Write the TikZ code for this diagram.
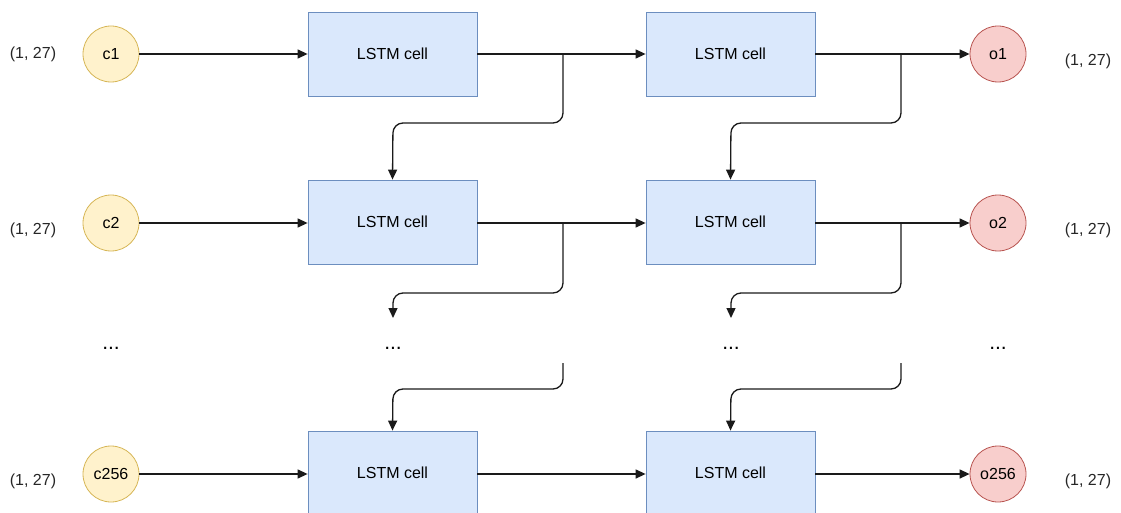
\documentclass[tikz,border=0pt]{standalone}
\usepackage{fontspec}
\setmainfont{Liberation Sans}
\usetikzlibrary{arrows.meta}
\definecolor{yfill}{HTML}{FFF2CC}
\definecolor{ydraw}{HTML}{D6B656}
\definecolor{bfill}{HTML}{DAE8FC}
\definecolor{bdraw}{HTML}{6C8EBF}
\definecolor{rfill}{HTML}{F8CECC}
\definecolor{rdraw}{HTML}{B85450}
\definecolor{edge}{HTML}{1A1A1A}
\begin{document}
\begin{tikzpicture}[x=1pt,y=-1pt,
  font=\fontsize{16}{18}\selectfont,
  incircle/.style={circle,draw=ydraw,fill=yfill,minimum size=56pt,inner sep=0pt,line width=0.8pt},
  outcircle/.style={circle,draw=rdraw,fill=rfill,minimum size=56pt,inner sep=0pt,line width=0.8pt},
  cellbox/.style={rectangle,draw=bdraw,fill=bfill,minimum width=169pt,minimum height=84pt,inner sep=0pt,line width=0.8pt},
  lbl/.style={inner sep=0pt,text=black!85},
  dots/.style={inner sep=0pt,anchor=base,font=\fontsize{21}{21}\selectfont},
  conn/.style={draw=edge,line width=1.3pt,-{Triangle[length=10pt,width=9pt]}},
  branch/.style={draw=edge,line width=1.3pt,rounded corners=10pt},
]
\useasboundingbox (0,0) rectangle (1121,513);
% row 1
\node[incircle] (c1) at (111,54) {c1};
\node[cellbox] (a1) at (392.5,54) {LSTM cell};
\node[cellbox] (b1) at (730.5,54) {LSTM cell};
\node[outcircle] (o1) at (998,54) {o1};
\node[lbl] (li1) at (33,54) {(1, 27)};
\node[lbl] (lo1) at (1088,61) {(1, 27)};
% row 2
\node[incircle] (c2) at (111,223) {c2};
\node[cellbox] (a2) at (392.5,222) {LSTM cell};
\node[cellbox] (b2) at (730.5,222) {LSTM cell};
\node[outcircle] (o2) at (998,223) {o2};
\node[lbl] (li2) at (33,230) {(1, 27)};
\node[lbl] (lo2) at (1088,230) {(1, 27)};
% dots
\node[dots] (d1) at (111,349) {...};
\node[dots] (d2) at (393,349) {...};
\node[dots] (d3) at (731,349) {...};
\node[dots] (d4) at (998,349) {...};
% row 3
\node[incircle] (c3) at (111,474) {c256};
\node[cellbox] (a3) at (392.5,473) {LSTM cell};
\node[cellbox] (b3) at (730.5,473) {LSTM cell};
\node[outcircle] (o3) at (998,474) {o256};
\node[lbl] (li3) at (33,481) {(1, 27)};
\node[lbl] (lo3) at (1088,481) {(1, 27)};
% horizontal connectors
\draw[conn] (c1) -- (a1);
\draw[conn] (a1) -- (b1);
\draw[conn] (b1) -- (o1);
\draw[conn] (c2) -- (a2.west |- c2);
\draw[conn] (a2.east |- c2) -- (b2.west |- c2);
\draw[conn] (b2.east |- c2) -- (o2);
\draw[conn] (c3) -- (a3.west |- c3);
\draw[conn] (a3.east |- c3) -- (b3.west |- c3);
\draw[conn] (b3.east |- c3) -- (o3);
% branch coordinates
\coordinate (s1a) at (563,54);
\coordinate (s1b) at (901,54);
\coordinate (s2a) at (563,223);
\coordinate (s2b) at (901,223);
\coordinate (t2a) at (393,318);
\coordinate (t2b) at (731,318);
\coordinate (s3a) at (563,363);
\coordinate (s3b) at (901,363);
% branches row1 -> row2
\draw[branch,conn] (s1a) -- (563,123) -- (393,123) -- (a2.north);
\draw[branch,conn] (s1b) -- (901,123) -- (731,123) -- (b2.north);
% row2 -> dots
\draw[branch,conn] (s2a) -- (563,293) -- (393,293) -- (t2a);
\draw[branch,conn] (s2b) -- (901,293) -- (731,293) -- (t2b);
% dots -> row3
\draw[branch,conn] (s3a) -- (563,389) -- (393,389) -- (a3.north);
\draw[branch,conn] (s3b) -- (901,389) -- (731,389) -- (b3.north);
\end{tikzpicture}
\end{document}
